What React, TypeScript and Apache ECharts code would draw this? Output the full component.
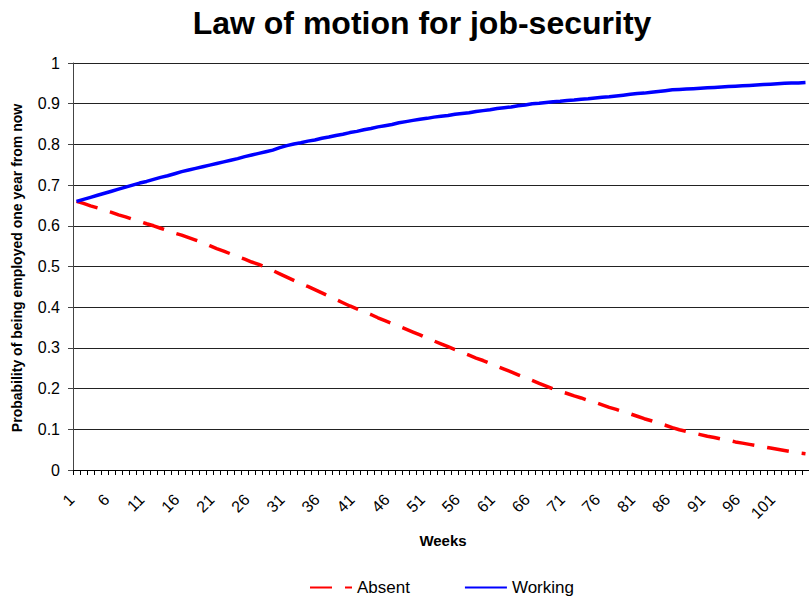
import React, { useEffect, useRef } from "react";
import * as echarts from "echarts";

const weeks: string[] = [];
for (let i = 1; i <= 105; i++) weeks.push(String(i));

const absent: number[] = [
  0.660, 0.655, 0.649, 0.644, 0.638, 0.633, 0.627, 0.622, 0.616, 0.611,
  0.605, 0.600, 0.594, 0.588, 0.582, 0.577, 0.571, 0.565, 0.559, 0.551,
  0.544, 0.538, 0.531, 0.524, 0.518, 0.511, 0.505, 0.498, 0.490, 0.482,
  0.474, 0.466, 0.458, 0.451, 0.443, 0.435, 0.427, 0.419, 0.411, 0.403,
  0.396, 0.389, 0.382, 0.374, 0.367, 0.360, 0.353, 0.346, 0.339, 0.332,
  0.324, 0.317, 0.310, 0.303, 0.296, 0.289, 0.282, 0.275, 0.269, 0.262,
  0.255, 0.248, 0.241, 0.234, 0.227, 0.220, 0.213, 0.206, 0.199, 0.193,
  0.188, 0.182, 0.177, 0.171, 0.166, 0.160, 0.154, 0.149, 0.143, 0.138,
  0.132, 0.126, 0.121, 0.115, 0.110, 0.104, 0.099, 0.095, 0.091, 0.087,
  0.083, 0.080, 0.076, 0.073, 0.069, 0.066, 0.063, 0.060, 0.057, 0.054,
  0.051, 0.048, 0.045, 0.042, 0.040,
];

const working: number[] = [
  0.660, 0.665, 0.670, 0.675, 0.680, 0.685, 0.690, 0.695, 0.700, 0.705,
  0.709, 0.714, 0.719, 0.723, 0.728, 0.733, 0.737, 0.741, 0.745, 0.749,
  0.753, 0.757, 0.761, 0.765, 0.770, 0.774, 0.778, 0.782, 0.786, 0.792,
  0.797, 0.801, 0.804, 0.808, 0.811, 0.815, 0.818, 0.822, 0.825, 0.829,
  0.832, 0.836, 0.839, 0.843, 0.846, 0.849, 0.853, 0.856, 0.859, 0.862,
  0.864, 0.867, 0.869, 0.871, 0.874, 0.876, 0.878, 0.881, 0.883, 0.885,
  0.888, 0.890, 0.892, 0.895, 0.897, 0.900, 0.901, 0.903, 0.905, 0.906,
  0.908, 0.909, 0.911, 0.912, 0.914, 0.916, 0.917, 0.919, 0.921, 0.923,
  0.925, 0.926, 0.928, 0.930, 0.932, 0.934, 0.935, 0.936, 0.937, 0.938,
  0.939, 0.940, 0.941, 0.942, 0.943, 0.944, 0.945, 0.946, 0.947, 0.948,
  0.949, 0.950, 0.951, 0.951, 0.952,
];

const FONT = "Liberation Sans, Arial, sans-serif";

export default function App() {
  const ref = useRef<HTMLDivElement>(null);
  useEffect(() => {
    if (!ref.current) return;
    const chart = echarts.init(ref.current, null, { renderer: "svg" });
    chart.setOption({
      animation: false,
      backgroundColor: "#ffffff",
      textStyle: { fontFamily: FONT },
      title: {
        text: "Law of motion for job-security",
        left: 417,
        textAlign: "center",
        top: 2,
        textStyle: { fontFamily: FONT, fontSize: 32, fontWeight: "bold", color: "#000" },
      },
      grid: { left: 73, top: 63, width: 748, height: 407, containLabel: false },
      legend: {
        left: 304,
        top: 574,
        itemWidth: 42,
        itemHeight: 4,
        itemGap: 54,
        itemStyle: { opacity: 0 },
        textStyle: { fontFamily: FONT, fontSize: 17, color: "#000" },
        data: ["Absent", "Working"],
      },
      graphic: [
        {
          type: "text",
          x: 443,
          y: 540,
          style: {
            text: "Weeks",
            fontFamily: FONT,
            fontSize: 15,
            fontWeight: "bold",
            fill: "#000",
            textAlign: "center",
            textVerticalAlign: "middle",
          },
        },
        {
          type: "text",
          x: 17,
          y: 268,
          rotation: Math.PI / 2,
          style: {
            text: "Probability of being employed one year from now",
            fontFamily: FONT,
            fontSize: 14,
            fontWeight: "bold",
            fill: "#000",
            textAlign: "center",
            textVerticalAlign: "middle",
          },
        },
      ],
      xAxis: {
        type: "category",
        data: weeks,
        boundaryGap: true,
        axisLine: { lineStyle: { color: "#000", width: 1 } },
        axisTick: { show: true, interval: 0, length: 5, lineStyle: { color: "#000" } },
        axisLabel: {
          interval: 4,
          rotate: 45,
          margin: 22,
          padding: [0, 7, 0, 0],
          fontFamily: FONT,
          fontSize: 16,
          color: "#000",
        },
        splitLine: { show: false },
      },
      yAxis: {
        type: "value",
        min: 0,
        max: 1,
        interval: 0.1,
        axisLine: { show: true, lineStyle: { color: "#444", width: 1 } },
        axisTick: { show: true, length: 5, lineStyle: { color: "#444" } },
        axisLabel: {
          margin: 13,
          fontFamily: FONT,
          fontSize: 16,
          color: "#000",
          formatter: (v: number) => String(Math.round(v * 10) / 10),
        },
        splitLine: { show: true, lineStyle: { color: "#222", width: 1 } },
      },
      series: [
        {
          name: "Absent",
          type: "line",
          data: absent,
          symbol: "none",
          lineStyle: { color: "#ff0000", width: 3.5, type: [22, 13] },
          itemStyle: { color: "#ff0000" },
        },
        {
          name: "Working",
          type: "line",
          data: working,
          symbol: "none",
          lineStyle: { color: "#0000ff", width: 3.5 },
          itemStyle: { color: "#0000ff" },
        },
      ],
    });
    return () => chart.dispose();
  }, []);
  return (
    <div
      ref={ref}
      style={{ position: "fixed", left: 0, top: 0, width: 809, height: 598, background: "#fff" }}
    />
  );
}
